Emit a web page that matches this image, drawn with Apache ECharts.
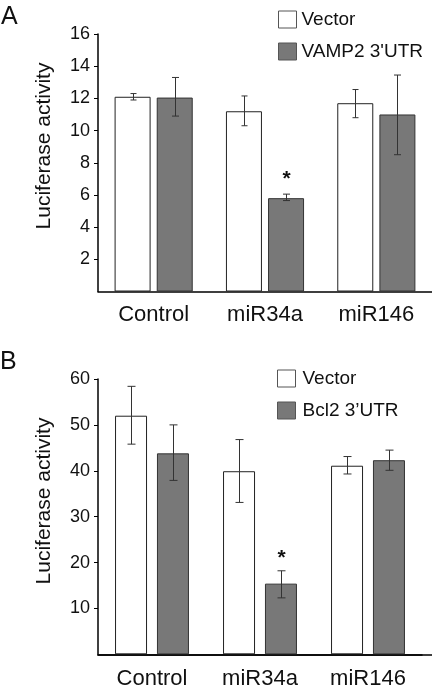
<!DOCTYPE html>
<html>
<head>
<meta charset="utf-8">
<script src="https://cdn.jsdelivr.net/npm/echarts@6/dist/echarts.min.js"></script>
<style>
html,body{margin:0;padding:0;background:#fff;}
#c{width:432px;height:694px;}
</style>
</head>
<body>
<div id="c"></div>
<script>
// ---- data ----
const categories = ['Control', 'miR34a', 'miR146'];
// Panel A
const vecA = [12.1, 11.2, 11.7];
const vecALow = [11.9, 10.3, 10.8];
const vecAHigh = [12.3, 12.15, 12.55];
const vampA = [12.05, 5.8, 11.0];
const vampALow = [10.9, 5.65, 8.5];
const vampAHigh = [13.3, 6.05, 13.45];
const sigA = ['', '*', ''];
const yTicksA = [2, 4, 6, 8, 10, 12, 14, 16];
// Panel B
const vecB = [52.0, 39.9, 41.1];
const vecBLow = [45.8, 33.1, 39.3];
const vecBHigh = [58.4, 46.8, 43.1];
const bclB = [43.8, 15.4, 42.3];
const bclBLow = [37.9, 12.3, 40.1];
const bclBHigh = [50.0, 18.2, 44.5];
const sigB = ['', '*', ''];
const yTicksB = [10, 20, 30, 40, 50, 60];

const namesA = ['Vector', "VAMP2 3'UTR"];
const namesB = ['Vector', 'Bcl2 3\u2019UTR'];

const FONT = '"Liberation Sans", Arial, sans-serif';
const vecStyle = { color: '#ffffff', borderColor: '#222222', borderWidth: 1 };
const grayStyle = { color: '#787878', borderColor: '#333333', borderWidth: 1 };

function errData(low, high, sig) {
  return low.map((l, i) => [i, l, high[i], sig ? sig[i] : '']);
}

function errSeries(xi, yi, low, high, sig, side, offset, capHalf, color, starGap) {
  return {
    type: 'custom',
    xAxisIndex: xi, yAxisIndex: yi,
    silent: true, z: 5,
    data: errData(low, high, sig),
    encode: { x: 0, y: [1, 2] },
    renderItem: function (params, api) {
      const lo = api.coord([api.value(0), api.value(1)]);
      const hi = api.coord([api.value(0), api.value(2)]);
      const x = Math.round(lo[0] + side * offset) + 0.5;
      const st = { stroke: color, lineWidth: 1 };
      const children = [
        { type: 'line', shape: { x1: x, y1: hi[1], x2: x, y2: lo[1] }, style: st },
        { type: 'line', shape: { x1: x - capHalf, y1: hi[1], x2: x + capHalf, y2: hi[1] }, style: st },
        { type: 'line', shape: { x1: x - capHalf, y1: lo[1], x2: x + capHalf, y2: lo[1] }, style: st }
      ];
      const s = api.value(3);
      if (s) {
        children.push({
          type: 'text',
          style: { x: x, y: hi[1] - starGap, text: s, fill: '#111', font: 'bold 21px ' + FONT, textAlign: 'center', textVerticalAlign: 'middle' }
        });
      }
      return { type: 'group', children: children };
    }
  };
}

const axisLabelStyle = { fontFamily: FONT, fontSize: 18, color: '#111' };

const chart = echarts.init(document.getElementById('c'), null, { renderer: 'canvas' });
chart.setOption({
  animation: false,
  backgroundColor: '#fff',
  grid: [
    { left: 98, right: 0, top: 34, bottom: 402.5 },
    { left: 98, right: 10, top: 379, bottom: 39.7 },
    { left: 98, right: 0, top: 379, bottom: 39.7 }
  ],
  xAxis: [
    {
      type: 'category', gridIndex: 0, data: categories,
      axisLine: { lineStyle: { color: '#000', width: 1.5 } },
      axisTick: { show: false },
      axisLabel: { fontFamily: FONT, fontSize: 22, color: '#111', margin: 12 }
    },
    {
      type: 'category', gridIndex: 1, data: categories,
      axisLine: { lineStyle: { color: '#000', width: 1.5 } },
      axisTick: { show: false },
      axisLabel: { fontFamily: FONT, fontSize: 22, color: '#111', margin: 14 }
    },
    {
      type: 'category', gridIndex: 2, data: categories,
      axisLine: { lineStyle: { color: '#000', width: 1.5 } },
      axisTick: { show: false },
      axisLabel: { show: false }
    }
  ],
  yAxis: [
    {
      type: 'value', gridIndex: 0, min: 0, max: 16, interval: 2,
      axisLine: { show: true, lineStyle: { color: '#000', width: 1.5 } },
      axisTick: { show: true, length: 4, customValues: yTicksA, lineStyle: { color: '#000', width: 1 } },
      axisLabel: Object.assign({ customValues: yTicksA, margin: 8 }, axisLabelStyle),
      splitLine: { show: false }
    },
    {
      type: 'value', gridIndex: 1, min: 0, max: 60, interval: 10,
      axisLine: { show: true, lineStyle: { color: '#000', width: 1.5 } },
      axisTick: { show: true, length: 4, customValues: yTicksB, lineStyle: { color: '#000', width: 1 } },
      axisLabel: Object.assign({ customValues: yTicksB, margin: 8 }, axisLabelStyle),
      splitLine: { show: false }
    },
    {
      type: 'value', gridIndex: 2, min: 0, max: 60, show: false
    }
  ],
  legend: [
    {
      orient: 'vertical', left: 278, top: 10, padding: 0,
      itemWidth: 18, itemHeight: 17, itemGap: 13,
      icon: 'rect',
      textStyle: { fontFamily: FONT, fontSize: 19, color: '#111', padding: [0, 0, 0, 0] },
      data: [
        { name: namesA[0], itemStyle: { color: '#fff', borderColor: '#555', borderWidth: 1 } },
        { name: namesA[1], itemStyle: { color: '#787878', borderColor: '#555', borderWidth: 1 } }
      ],
      selectedMode: false
    },
    {
      orient: 'vertical', left: 277, top: 369, padding: 0,
      itemWidth: 18, itemHeight: 17, itemGap: 13,
      icon: 'rect',
      textStyle: { fontFamily: FONT, fontSize: 19, color: '#111', padding: [0, 0, 0, 2] },
      data: [
        { name: namesB[1] + ' ', itemStyle: { color: '#fff', borderColor: '#555', borderWidth: 1 } },
        { name: namesB[1], itemStyle: { color: '#787878', borderColor: '#555', borderWidth: 1 } }
      ],
      formatter: function (n) { return n === namesB[1] + ' ' ? namesB[0] : n; },
      selectedMode: false
    }
  ],
  graphic: [
    { type: 'text', left: 1, top: 5, style: { text: 'A', font: '25px ' + FONT, fill: '#111' } },
    { type: 'text', left: 0, top: 350, style: { text: 'B', font: '25px ' + FONT, fill: '#111' } },
    { type: 'text', x: 44, y: 146, rotation: Math.PI / 2, style: { text: 'Luciferase activity', font: '21px ' + FONT, fill: '#111', textAlign: 'center', textVerticalAlign: 'middle' } },
    { type: 'text', x: 44, y: 501, rotation: Math.PI / 2, style: { text: 'Luciferase activity', font: '21px ' + FONT, fill: '#111', textAlign: 'center', textVerticalAlign: 'middle' } }
  ],
  series: [
    { type: 'bar', name: namesA[0], xAxisIndex: 0, yAxisIndex: 0, data: vecA, barWidth: 36, barGap: '17%', itemStyle: vecStyle },
    { type: 'bar', name: namesA[1], xAxisIndex: 0, yAxisIndex: 0, data: vampA, barWidth: 36, barGap: '17%', itemStyle: grayStyle },
    errSeries(0, 0, vecALow, vecAHigh, null, -1, 21, 3, '#333', 0),
    errSeries(0, 0, vampALow, vampAHigh, sigA, 1, 21, 3.5, '#333', 15),
    { type: 'bar', name: namesB[1] + ' ', xAxisIndex: 1, yAxisIndex: 1, data: vecB, barWidth: 32, barGap: '31%', itemStyle: vecStyle },
    { type: 'bar', name: namesB[1], xAxisIndex: 1, yAxisIndex: 1, data: bclB, barWidth: 32, barGap: '31%', itemStyle: grayStyle },
    errSeries(1, 1, vecBLow, vecBHigh, null, -1, 21, 4, '#333', 0),
    errSeries(1, 1, bclBLow, bclBHigh, sigB, 1, 21, 4, '#333', 13)
  ]
});
</script>
</body>
</html>
